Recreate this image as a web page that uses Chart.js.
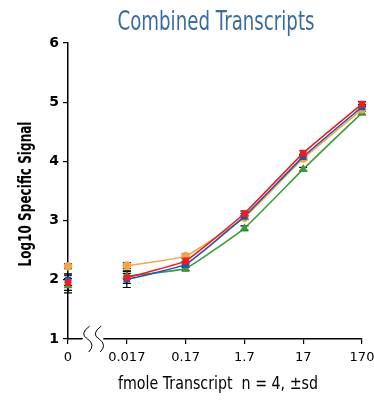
<!DOCTYPE html>
<html>
<head>
<meta charset="utf-8">
<title>Combined Transcripts</title>
<script src="https://cdn.jsdelivr.net/npm/chart.js@4/dist/chart.umd.min.js"></script>
<style>
  body { margin: 0; background: #fff; }
  #wrap { width: 374px; height: 402px; }
</style>
</head>
<body>
<div id="wrap"><canvas id="grafico" width="374" height="402"></canvas></div>
<script>
// Dados do gráfico
const categorias = ['0', '0.017', '0.17', '1.7', '17', '170'];

const serieVermelha = [1.95, 2.04, 2.32, 3.12, 4.14, 4.97];
const serieAzul     = [2.00, 2.01, 2.26, 3.07, 4.08, 4.92];
const serieLaranja  = [2.23, 2.24, 2.40, 3.05, 4.05, 4.88];
const serieVerde    = [1.90, 2.06, 2.19, 2.87, 3.87, 4.82];

// desvio padrão (n = 4)
const dpVermelha = [0.13, 0.10, 0.05, 0.04, 0.04, 0.04];
const dpAzul     = [0.10, 0.14, 0.05, 0.05, 0.04, 0.04];
const dpLaranja  = [0.04, 0.05, 0.04, 0.03, 0.03, 0.03];
const dpVerde    = [0.12, 0.05, 0.04, 0.04, 0.03, 0.03];

const titulo = 'Combined Transcripts';
const tituloX = 'fmole Transcript  n = 4, ±sd';
const tituloY = 'Log10 Specific Signal';
const fonte = "'DejaVu Sans', sans-serif";

// não liga o ponto "0" ao resto da curva
const semLinhaNoZero = {
  borderColor: ctx => ctx.p0DataIndex === 0 ? 'transparent' : undefined
};

function serie(nome, dados, dp, cor, estilo) {
  return {
    label: nome,
    data: dados,
    dp: dp,
    borderColor: cor,
    backgroundColor: cor,
    borderWidth: 1.6,
    pointStyle: estilo,
    pointRadius: 3.5,
    pointHoverRadius: 3.5,
    tension: 0.1,
    segment: semLinhaNoZero
  };
}

// texto estreito (a fonte original é condensada)
function textoEstreito(ctx, texto, cx, cy, largura, font, cor, angulo) {
  ctx.save();
  ctx.font = font;
  ctx.fillStyle = cor;
  ctx.textAlign = 'center';
  ctx.textBaseline = 'middle';
  const k = largura / ctx.measureText(texto).width;
  ctx.translate(cx, cy);
  ctx.rotate(angulo || 0);
  ctx.scale(k, 1);
  ctx.fillText(texto, 0, 0);
  ctx.restore();
}

// Barras de erro desenhadas pelas escalas do próprio gráfico
const barrasErro = {
  id: 'barrasErro',
  beforeDatasetsDraw(chart) {
    const ctx = chart.ctx;
    const y = chart.scales.y;
    ctx.save();
    ctx.strokeStyle = '#000';
    ctx.lineWidth = 1.2;
    chart.data.datasets.forEach((ds, i) => {
      const meta = chart.getDatasetMeta(i);
      meta.data.forEach((pt, j) => {
        const sd = ds.dp[j];
        const yTop = y.getPixelForValue(ds.data[j] + sd);
        const yBot = y.getPixelForValue(ds.data[j] - sd);
        ctx.beginPath();
        ctx.moveTo(pt.x, yTop); ctx.lineTo(pt.x, yBot);
        ctx.moveTo(pt.x - 4, yTop); ctx.lineTo(pt.x + 4, yTop);
        ctx.moveTo(pt.x - 4, yBot); ctx.lineTo(pt.x + 4, yBot);
        ctx.stroke();
      });
    });
    ctx.restore();
  }
};

// Quebra do eixo x entre 0 e 0.017 + títulos
const quebraEixo = {
  id: 'quebraEixo',
  afterDraw(chart) {
    const ctx = chart.ctx;
    const x = chart.scales.x;
    const area = chart.chartArea;
    const yb = area.bottom;
    const x0 = x.getPixelForValue(0);
    const x1 = x.getPixelForValue(1);
    const a = x0 + (x1 - x0) * 0.25;
    const b = x0 + (x1 - x0) * 0.6;
    ctx.save();
    ctx.fillStyle = '#fff';
    ctx.fillRect(a, yb - 2, b - a, 4);
    ctx.strokeStyle = '#000';
    ctx.lineWidth = 1;
    [a + 5, b - 4].forEach(cx => {
      ctx.beginPath();
      ctx.moveTo(cx + 2, yb - 13);
      ctx.quadraticCurveTo(cx - 9, yb - 5, cx, yb);
      ctx.quadraticCurveTo(cx + 8, yb + 6, cx + 1, yb + 13);
      ctx.stroke();
    });
    ctx.restore();

    const meio = (area.left + area.right) / 2;
    textoEstreito(ctx, titulo, meio + 1, 23, 197, '26px ' + fonte, '#3b6c9b');
    textoEstreito(ctx, tituloX, meio + 3, 384, 200, '18px ' + fonte, '#000');
    textoEstreito(ctx, tituloY, 26, (area.top + area.bottom) / 2 + 3, 145, 'bold 18px ' + fonte, '#000', -Math.PI / 2);
  }
};

new Chart(document.getElementById('grafico'), {
  type: 'line',
  data: {
    labels: categorias,
    datasets: [
      serie('Vermelha', serieVermelha, dpVermelha, '#ee1c24', 'rect'),
      serie('Azul', serieAzul, dpAzul, '#2356a8', 'rect'),
      serie('Laranja', serieLaranja, dpLaranja, '#f2a54a', 'circle'),
      serie('Verde', serieVerde, dpVerde, '#3d9b3a', 'triangle')
    ]
  },
  options: {
    responsive: false,
    animation: false,
    layout: { padding: { left: 0, right: 0, top: 43, bottom: 0 } },
    plugins: {
      legend: { display: false },
      tooltip: { enabled: false },
      title: { display: false }
    },
    scales: {
      x: {
        type: 'category',
        offset: false,
        grid: { drawOnChartArea: false, drawTicks: true, tickLength: 5, color: '#000', lineWidth: 1.2 },
        border: { display: true, color: '#000', width: 1.5 },
        ticks: { color: '#000', font: { family: fonte, size: 13 }, padding: 6, maxRotation: 0 },
        title: { display: false },
        afterFit: s => { s.height = 63; s.paddingRight = 12; }
      },
      y: {
        min: 1,
        max: 6,
        grid: { drawOnChartArea: false, drawTicks: true, tickLength: 5, color: '#000', lineWidth: 1.2 },
        border: { display: true, color: '#000', width: 1.5 },
        ticks: { stepSize: 1, color: '#000', font: { family: fonte, size: 14, weight: 'bold' }, padding: 4 },
        title: { display: false },
        afterFit: s => { s.width = 68; }
      }
    }
  },
  plugins: [barrasErro, quebraEixo]
});
</script>
</body>
</html>
